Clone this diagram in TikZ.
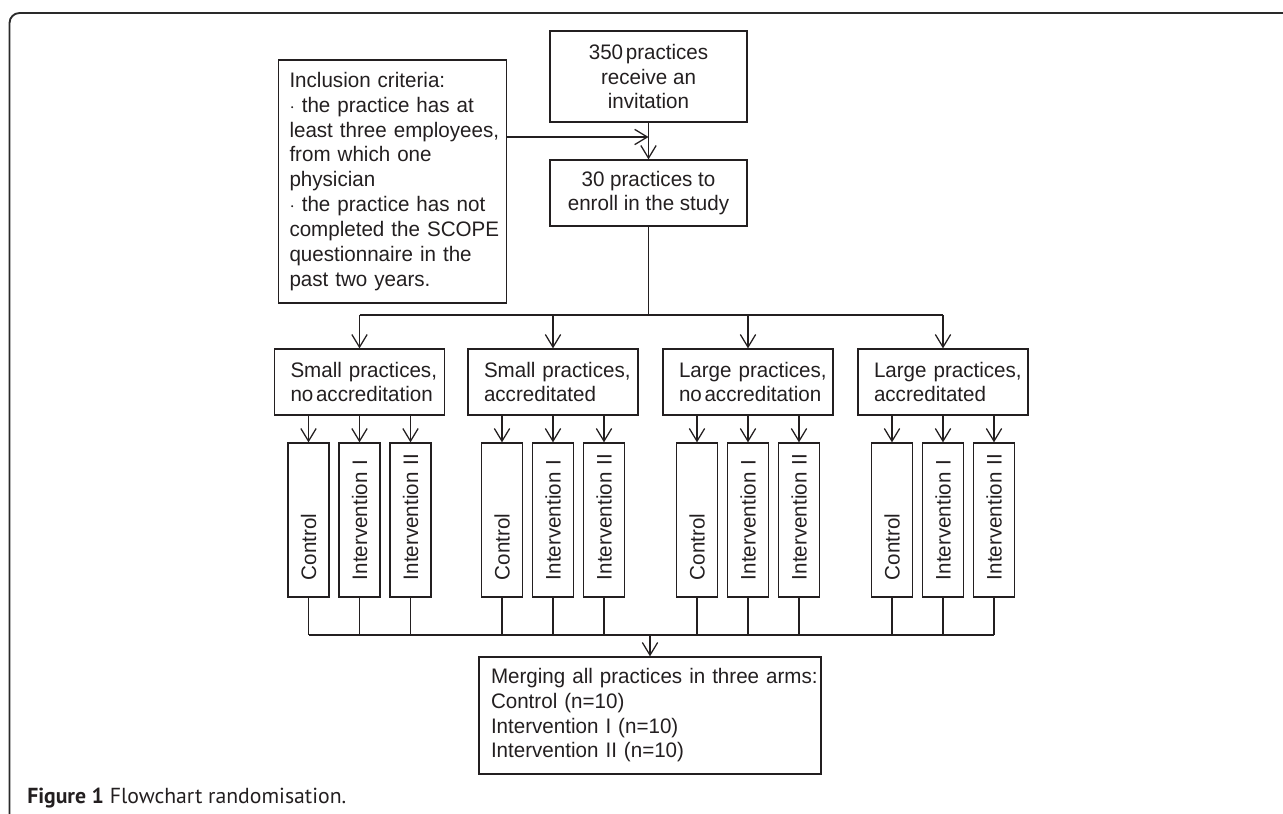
\documentclass[tikz,border=0pt]{standalone}
\usepackage{fontspec}
\setmainfont[FakeStretch=0.98]{Liberation Sans}
\newfontfamily\capfont{PT Sans}
\usetikzlibrary{arrows.meta}
\definecolor{ink}{HTML}{231F20}
\definecolor{frame}{HTML}{2A2A2A}
\begin{document}
\begin{tikzpicture}[x=0.75pt,y=-0.75pt,
  every node/.style={font=\fontsize{15.75pt}{18.5pt}\selectfont, text=ink},
  box/.style={draw=ink, line width=0.95pt, inner ysep=0pt},
  ln/.style={draw=ink, line width=0.95pt},
  arr/.style={ln, -{Straight Barb[length=9.5pt,width=11.5pt]}},
  catbox/.style={box, text width=103.5pt, inner xsep=12pt, minimum height=49.5pt, align=left},
  topbox/.style={box, minimum width=147.75pt, inner xsep=0pt, align=center},
  subbox/.style={box, rotate=90, text width=90pt, inner xsep=12.75pt, minimum height=30.75pt, align=left},
]
\useasboundingbox (0,0) rectangle (1283,814);
% frame
\draw[frame, line width=1.4pt, rounded corners=7.5pt] (1283,13) -- (9.5,13) -- (9.5,814);

% top boxes
\node[topbox, minimum height=68.25pt] (inv) at (648.5,76.5)
  {350\kern2pt practices\\receive an\\invitation};
\node[topbox, minimum height=49.5pt] (enr) at (648.5,193)
  {30 practices to\\enroll in the study};
\node[box, text width=154.5pt, inner xsep=8.25pt, minimum height=182.25pt, align=left, font=\fontsize{15.75pt}{18.7pt}\selectfont] (incl) at (392.5,181.5)
  {\mbox{Inclusion criteria:}\\
   \mbox{$\cdot$ the practice has at}\\
   \mbox{least three employees,}\\
   \mbox{from which one}\\
   \mbox{physician}\\
   \mbox{$\cdot$ the practice has not}\\
   \mbox{completed the SCOPE}\\
   \mbox{questionnaire in the}\\
   \mbox{past two years.}};

\coordinate (ij) at (648.5,137);
\draw[arr] (inv.south) -- (enr.north);
\draw[arr] (incl.east |- ij) -- (ij);

% categories
\node[catbox] (c1) at (359.5,382) {\mbox{Small practices,}\\\mbox{no\kern2pt accreditation}};
\node[catbox] (c2) at (553,382) {\mbox{Small practices,}\\\mbox{accreditated}};
\node[catbox] (c3) at (748,382) {\mbox{Large practices,}\\\mbox{no\kern2pt accreditation}};
\node[catbox] (c4) at (943,382) {\mbox{Large practices,}\\\mbox{accreditated}};

\coordinate (split) at (648.5,315);
\draw[ln] (enr.south) -- (split);
\draw[ln] (c1.north |- split) -- (c4.north |- split);
\foreach \c in {c1,c2,c3,c4} \draw[arr] (\c.north |- split) -- (\c.north);

% arms
\foreach \i/\cx in {1/359.5,2/553,3/748,4/943} {
  \node[subbox] (s\i a) at (\cx-51,520) {\mbox{Control}};
  \node[subbox] (s\i b) at (\cx,520) {\mbox{Intervention I}};
  \node[subbox] (s\i c) at (\cx+51,520) {\mbox{Intervention II}};
  \foreach \k in {a,b,c} \draw[arr] (s\i\k.east |- c\i.south) -- (s\i\k.east);
}

% merge
\node[box, text width=238.5pt, inner xsep=9pt, minimum height=87.75pt, align=left] (mrg) at (650,715.5)
  {\mbox{Merging all practices in three arms:}\\
   \mbox{Control (n=10)}\\
   \mbox{Intervention I (n=10)}\\
   \mbox{Intervention II (n=10)}};
\coordinate (mj) at (650,635);
\foreach \i in {1,2,3,4} \foreach \k in {a,b,c} \draw[ln] (s\i\k.west) -- (s\i\k.west |- mj);
\draw[ln] (s1a.west |- mj) -- (s4c.west |- mj);
\draw[arr] (mj) -- (mrg.north);

% caption
\node[anchor=base west, inner sep=0pt, font=\capfont\fontsize{16.3pt}{19pt}\selectfont] (cap) at (27,803)
  {\textbf{Figure 1} Flowchart randomisation.};
\end{tikzpicture}
\end{document}
